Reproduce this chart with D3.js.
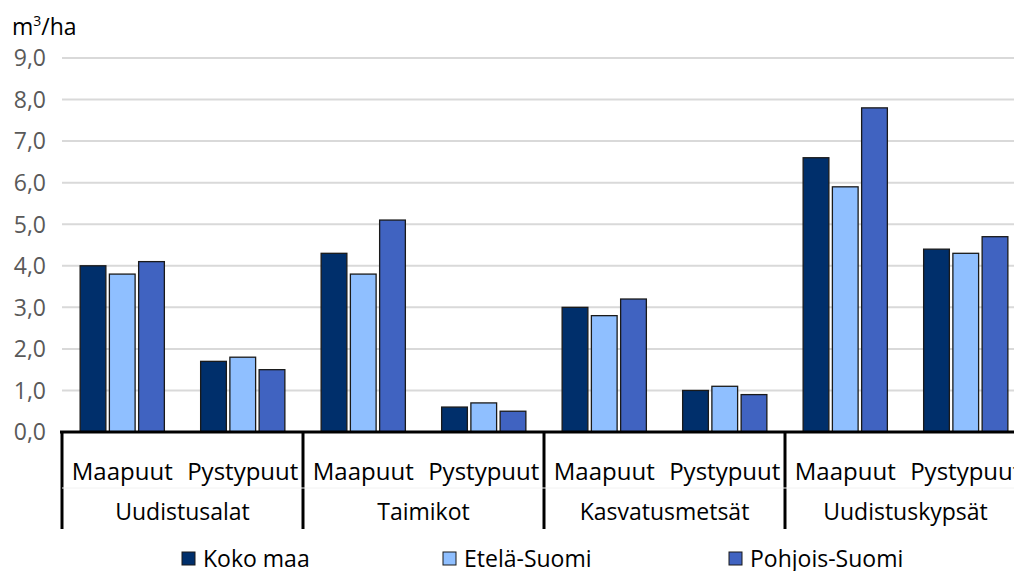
<!DOCTYPE html>
<html>
<head>
<meta charset="utf-8">
<script src="https://cdn.jsdelivr.net/npm/d3@7"></script>
<style>
  body { margin: 0; background: #fff; }
  text { font-family: "Open Sans", "Noto Sans", sans-serif; }
</style>
</head>
<body>
<div id="chart"></div>
<script>
// groups on the x axis, each with two sub categories
var groups = ["Uudistusalat", "Taimikot", "Kasvatusmetsät", "Uudistuskypsät"];
var subCats = ["Maapuut", "Pystypuut"];
var series = ["Koko maa", "Etelä-Suomi", "Pohjois-Suomi"];

// values per series, order: group x subCat
var kokoMaa      = [4.0, 1.7, 4.3, 0.6, 3.0, 1.0, 6.6, 4.4];
var etelaSuomi   = [3.8, 1.8, 3.8, 0.7, 2.8, 1.1, 5.9, 4.3];
var pohjoisSuomi = [4.1, 1.5, 5.1, 0.5, 3.2, 0.9, 7.8, 4.7];

var yTicks = [0, 1, 2, 3, 4, 5, 6, 7, 8, 9];
var colors = ["#002f6b", "#8fbfff", "#4063c1"];

var W = 1014, H = 571;
var plotLeft = 62, plotW = 964, plotTop = 58, plotBottom = 432;

var svg = d3.select("#chart").append("svg")
    .attr("width", W).attr("height", H);

var cats = [];
groups.forEach(function(g) {
    subCats.forEach(function(s) { cats.push(g + "|" + s); });
});
var allValues = [kokoMaa, etelaSuomi, pohjoisSuomi];

var x0 = d3.scaleBand().domain(cats).range([plotLeft, plotLeft + plotW]);
var x1 = d3.scaleBand().domain(series).range([0, x0.bandwidth()])
    .paddingInner(0.12).paddingOuter(0.62);
var y = d3.scaleLinear().domain([0, 9]).range([plotBottom, plotTop]);

// gridlines
svg.append("g").selectAll("line")
    .data(yTicks.slice(1))
    .enter().append("line")
    .attr("x1", plotLeft).attr("x2", W)
    .attr("y1", function(d) { return y(d); })
    .attr("y2", function(d) { return y(d); })
    .attr("stroke", "#d9d9d9").attr("stroke-width", 2);

// y tick labels
svg.append("g").selectAll("text")
    .data(yTicks)
    .enter().append("text")
    .attr("x", 46)
    .attr("y", function(d) { return y(d); })
    .attr("dy", "0.36em")
    .attr("text-anchor", "end")
    .attr("fill", "#595959")
    .style("font-size", "23px")
    .text(function(d) { return d3.format(".1f")(d).replace(".", ","); });

// unit label
var unit = svg.append("text").attr("x", 12).attr("y", 35)
    .style("font-size", "23px").attr("fill", "#000");
unit.append("tspan").text("m");
unit.append("tspan").attr("dy", -9).style("font-size", "14px").text("3");
unit.append("tspan").attr("dy", 9).text("/ha");

// bars
var slice = svg.append("g").selectAll("g")
    .data(cats)
    .enter().append("g")
    .attr("transform", function(d) { return "translate(" + x0(d) + ",0)"; });

slice.selectAll("rect")
    .data(function(d, i) {
        return series.map(function(s, k) { return {s: s, k: k, v: allValues[k][i]}; });
    })
    .enter().append("rect")
    .attr("x", function(d) { return x1(d.s); })
    .attr("width", x1.bandwidth())
    .attr("y", function(d) { return y(d.v); })
    .attr("height", function(d) { return plotBottom - y(d.v); })
    .attr("fill", function(d) { return colors[d.k]; })
    .attr("stroke", "#1a1a1a")
    .attr("stroke-width", 1.3);

// x axis line
svg.append("line")
    .attr("x1", plotLeft - 2).attr("x2", W)
    .attr("y1", plotBottom).attr("y2", plotBottom)
    .attr("stroke", "#000").attr("stroke-width", 3);

// group separators
var groupW = plotW / groups.length;
svg.append("g").selectAll("line")
    .data(d3.range(groups.length + 1))
    .enter().append("line")
    .attr("x1", function(i) { return plotLeft + i * groupW; })
    .attr("x2", function(i) { return plotLeft + i * groupW; })
    .attr("y1", plotBottom).attr("y2", 529)
    .attr("stroke", "#000").attr("stroke-width", 3);

// faint row divider
svg.append("line")
    .attr("x1", plotLeft).attr("x2", W)
    .attr("y1", 488).attr("y2", 488)
    .attr("stroke", "#f2f2f2").attr("stroke-width", 1);

// sub category labels
svg.append("g").selectAll("text")
    .data(cats)
    .enter().append("text")
    .attr("x", function(d) { return x0(d) + x0.bandwidth() / 2; })
    .attr("y", 480)
    .attr("text-anchor", "middle")
    .style("font-size", "24px")
    .text(function(d) { return d.split("|")[1]; });

// group labels
svg.append("g").selectAll("text")
    .data(groups)
    .enter().append("text")
    .attr("x", function(d, i) { return plotLeft + i * groupW + groupW / 2; })
    .attr("y", 520)
    .attr("text-anchor", "middle")
    .style("font-size", "23px")
    .text(function(d) { return d; });

// legend
var legendX = [182, 443, 729];
var legend = svg.append("g").selectAll("g")
    .data(series)
    .enter().append("g")
    .attr("transform", function(d, i) { return "translate(" + legendX[i] + ",552)"; });
legend.append("rect")
    .attr("width", 13).attr("height", 13)
    .attr("fill", function(d, i) { return colors[i]; })
    .attr("stroke", "#1a1a1a").attr("stroke-width", 1);
legend.append("text")
    .attr("x", 21).attr("y", 15)
    .style("font-size", "23px")
    .text(function(d) { return d; });
</script>
</body>
</html>
